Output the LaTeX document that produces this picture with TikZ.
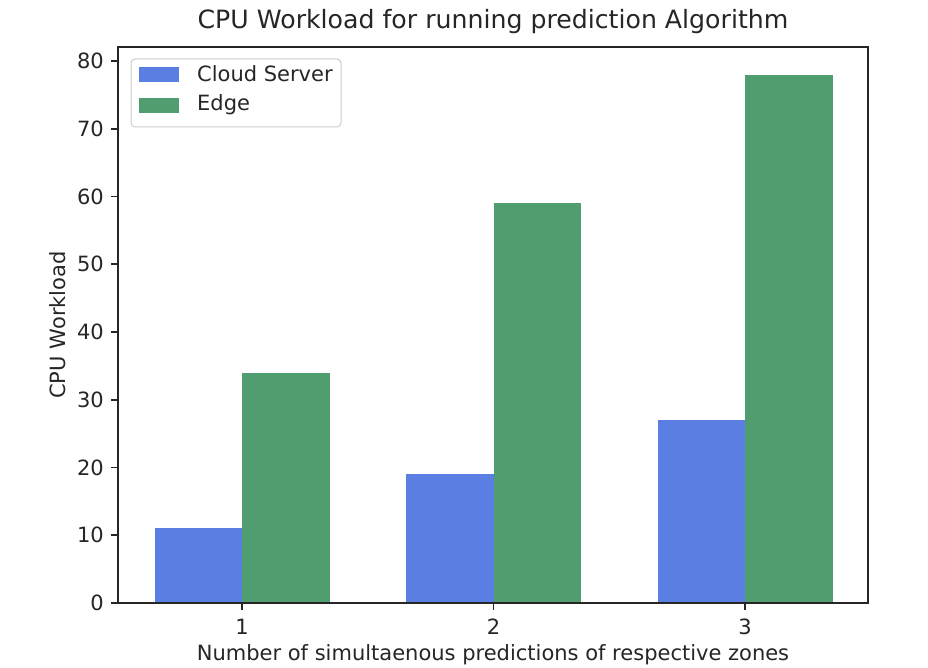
\documentclass[tikz,border=0pt]{standalone}
\usepackage{fontspec}
\setmainfont{DejaVu Sans}
\definecolor{cloudblue}{RGB}{91,126,226}
\definecolor{edgegreen}{RGB}{80,158,112}
\definecolor{inktext}{RGB}{38,38,38}
\definecolor{legendframe}{RGB}{204,204,204}
\begin{document}
\begin{tikzpicture}[x=1pt,y=-1pt,
  ticklabel/.style={inner sep=0pt,text=inktext,font=\fontsize{21}{24}\selectfont},
  axislabel/.style={inner sep=0pt,text=inktext,font=\fontsize{21}{24}\selectfont},
  ticktick/.style={line width=1.6pt,draw=inktext},
  spine/.style={line width=1.6pt,draw=inktext},
  cloudbar/.style={fill=cloudblue,draw=none},
  edgebar/.style={fill=edgegreen,draw=none}]
\useasboundingbox[fill=white] (0,0) rectangle (928,668);
% bars: category k sits at x = 242 + (k-1)*251.5, 10 units = 67.75 px
\foreach \k/\c/\e in {1/11/34, 2/19/59, 3/27/78}{
  \pgfmathsetmacro{\xc}{242+(\k-1)*251.5}
  \fill[cloudbar] ({\xc-87.5},603) rectangle (\xc,{603-6.775*\c});
  \fill[edgebar] (\xc,603) rectangle ({\xc+87.5},{603-6.775*\e});
}
% axes frame
\draw[spine] (118,47) rectangle (868,603);
% y ticks
\foreach \k in {0,...,8}{
  \pgfmathsetmacro{\yy}{603-67.75*\k}
  \coordinate (yt\k) at (118,\yy);
  \draw[ticktick] (yt\k) -- ++(-7,0);
  \node[ticklabel,anchor=east] (ylab\k) at (104,\yy) {\the\numexpr\k*10\relax};
}
% x ticks
\foreach \k in {1,2,3}{
  \pgfmathsetmacro{\xx}{242+(\k-1)*251.5}
  \coordinate (xt\k) at (\xx,603);
  \draw[ticktick] (xt\k) -- ++(0,7);
  \node[ticklabel,anchor=north] (xlab\k) at (\xx,619) {\k};
}
% titles
\node[inner sep=0pt,text=inktext,font=\fontsize{25.2}{28}\selectfont] (title) at (493,22) {CPU Workload for running prediction Algorithm};
\node[axislabel] (xlabel) at (493,655) {Number of simultaenous predictions of respective zones};
\node[axislabel,rotate=90] (ylabel) at (58,325) {CPU Workload};
% legend
\draw[legendframe,fill=white,fill opacity=0.8,rounded corners=4pt,line width=1pt] (131,59) rectangle (341,127);
\fill[cloudblue] (139,67) rectangle (179,82);
\fill[edgegreen] (139,98) rectangle (179,113);
\node[axislabel,anchor=west] (legcloud) at (197,74) {Cloud Server};
\node[axislabel,anchor=west] (legedge) at (197,105) {Edge};
\end{tikzpicture}
\end{document}
